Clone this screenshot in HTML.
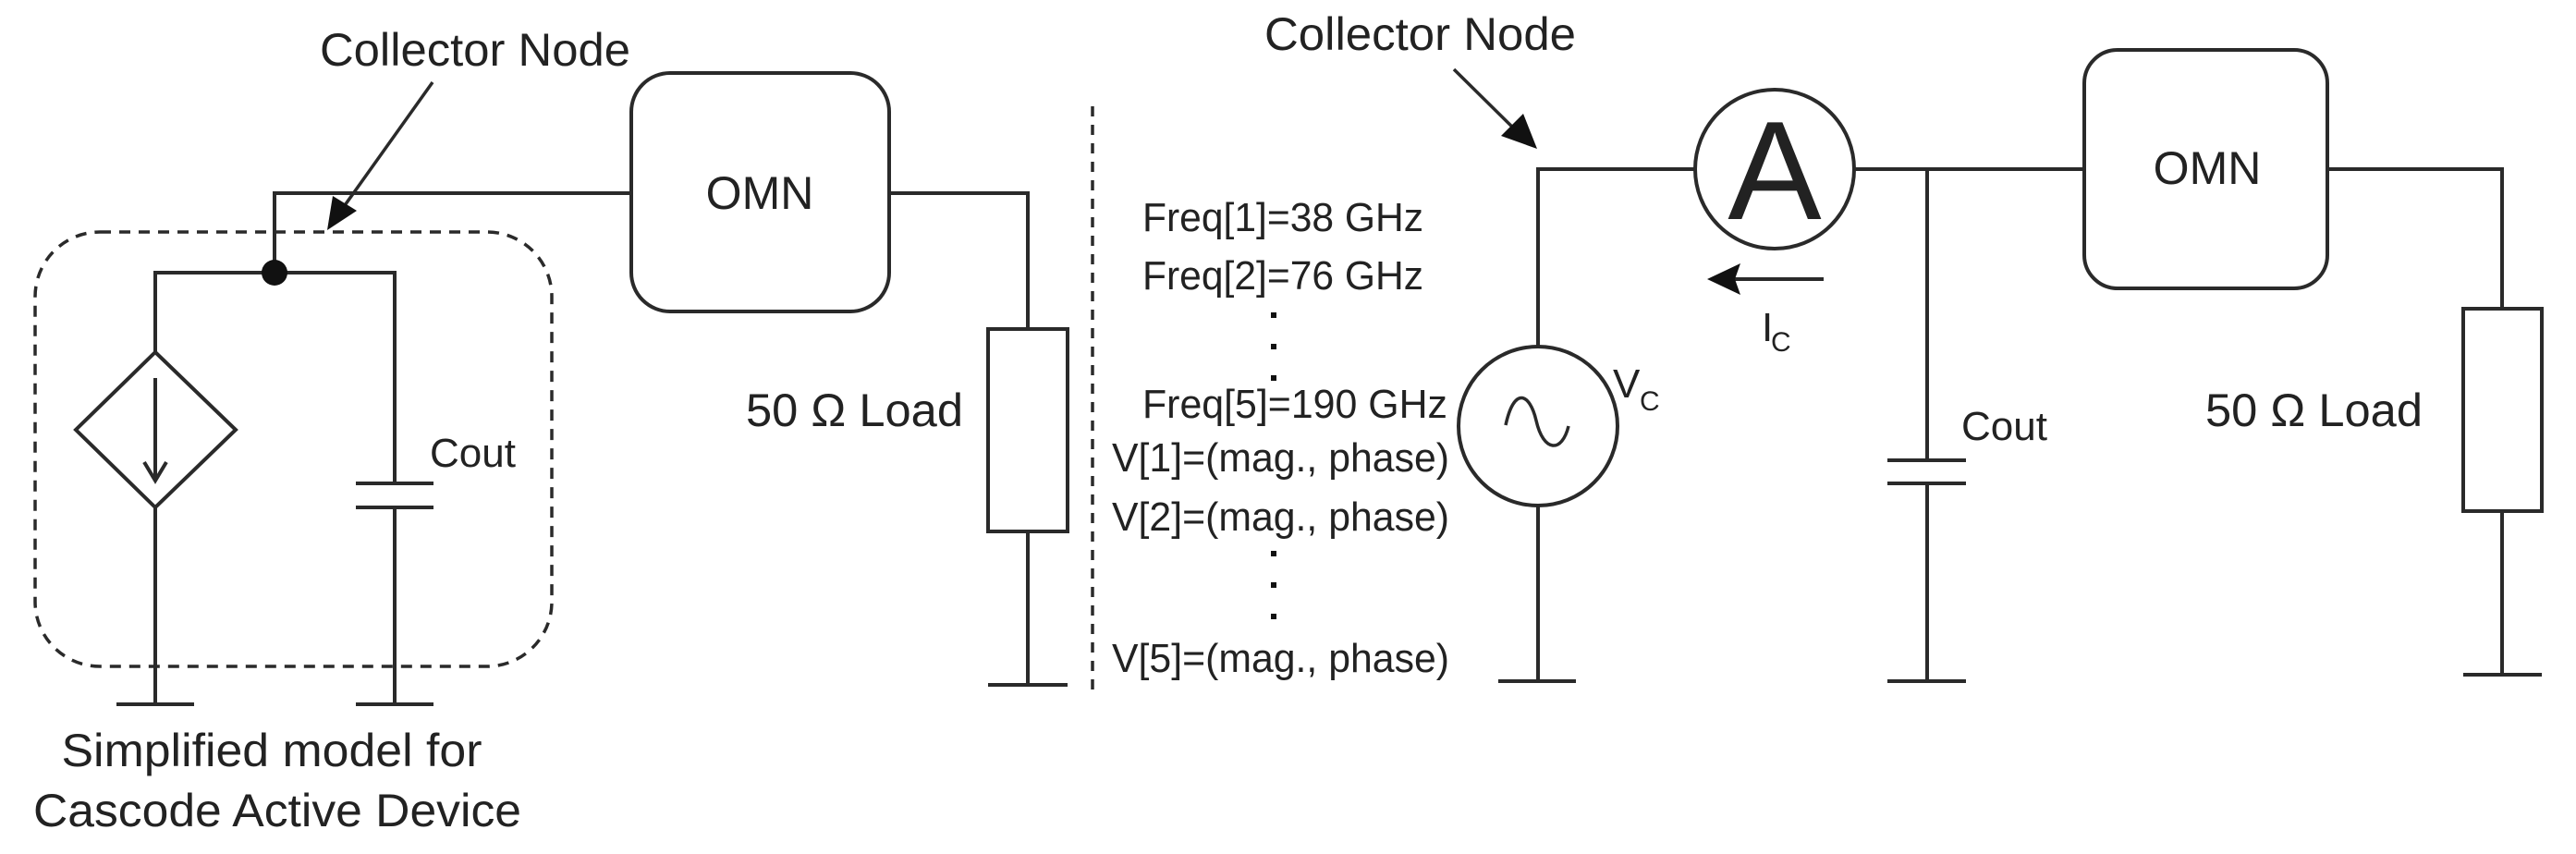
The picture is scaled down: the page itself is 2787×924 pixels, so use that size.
<!DOCTYPE html>
<html><head><meta charset="utf-8"><style>
html,body{margin:0;padding:0;background:#fff;}
svg{display:block;}
text{font-family:"Liberation Sans",Arial,sans-serif;fill:#222;}
</style></head><body>
<svg width="2787" height="924" viewBox="0 0 2787 924" xmlns="http://www.w3.org/2000/svg">
<defs>
<marker id="ah" markerWidth="10" markerHeight="10" refX="9" refY="5" orient="auto" markerUnits="userSpaceOnUse" viewBox="0 0 10 10"></marker>
</defs>
<g stroke="#2a2a2a" stroke-width="4" fill="none">
<!-- LEFT -->
<rect x="38" y="251" width="559" height="470" rx="70" stroke-dasharray="12 9" stroke-width="3.5"/>
<polyline points="297,295 297,209 683,209"/>
<rect x="683" y="79" width="279" height="258" rx="42"/>
<polyline points="962,209 1112,209 1112,356"/>
<rect x="1069" y="356" width="86" height="219"/>
<line x1="1112" y1="575" x2="1112" y2="741"/>
<line x1="1069" y1="741" x2="1155" y2="741"/>
<polyline points="168,381 168,295 427,295 427,523"/>
<polygon points="168,381 255,465 168,549 82,465"/>
<line x1="168" y1="409" x2="168" y2="520"/>
<polyline points="156,500 168,520 180,500"/>
<line x1="168" y1="549" x2="168" y2="762"/>
<line x1="126" y1="762" x2="210" y2="762"/>
<line x1="385" y1="523" x2="469" y2="523"/>
<line x1="385" y1="549" x2="469" y2="549"/>
<line x1="427" y1="549" x2="427" y2="762"/>
<line x1="385" y1="762" x2="469" y2="762"/>
<line x1="468" y1="89" x2="366" y2="232" stroke-width="3.5"/>
<!-- divider -->
<line x1="1182" y1="115" x2="1182" y2="748" stroke-dasharray="11 9" stroke-width="3.5"/>
<!-- RIGHT -->
<line x1="1573" y1="75" x2="1650" y2="151" stroke-width="3.5"/>
<polyline points="1664,375 1664,183 1835,183"/>
<circle cx="1920" cy="183" r="86"/>
<line x1="2006" y1="183" x2="2255" y2="183"/>
<line x1="2085" y1="183" x2="2085" y2="498"/>
<line x1="2042" y1="498" x2="2127" y2="498"/>
<line x1="2042" y1="523" x2="2127" y2="523"/>
<line x1="2085" y1="523" x2="2085" y2="737"/>
<line x1="2042" y1="737" x2="2127" y2="737"/>
<circle cx="1664" cy="461" r="86"/>
<path d="M1629,460 C1638,418 1655,425 1662,455 C1670,490 1690,490 1697,461" stroke-width="3.5"/>
<line x1="1664" y1="547" x2="1664" y2="737"/>
<line x1="1621" y1="737" x2="1705" y2="737"/>
<rect x="2255" y="54" width="263" height="258" rx="36"/>
<polyline points="2518,183 2707,183 2707,334"/>
<rect x="2665" y="334" width="85" height="219"/>
<line x1="2707" y1="553" x2="2707" y2="730"/>
<line x1="2665" y1="730" x2="2750" y2="730"/>
<line x1="1973" y1="302" x2="1870" y2="302"/>
</g>
<g fill="#111" stroke="none">
<circle cx="297" cy="295" r="14"/>
<polygon points="354,249 360,212 386,228"/>
<polygon points="1663,161 1624,147 1648,123"/>
<polygon points="1847,302 1883,285 1877,302 1883,319"/>
</g>
<g font-size="50">
<text x="346" y="71" textLength="336" lengthAdjust="spacingAndGlyphs">Collector Node</text>
<text x="1368" y="54" textLength="337" lengthAdjust="spacingAndGlyphs">Collector Node</text>
<text x="822" y="226" text-anchor="middle">OMN</text>
<text x="2388" y="199" text-anchor="middle">OMN</text>
<text x="807" y="461" textLength="235" lengthAdjust="spacingAndGlyphs">50 Ω Load</text>
<text x="2386" y="461" textLength="235" lengthAdjust="spacingAndGlyphs">50 Ω Load</text>
<text x="294" y="829" text-anchor="middle" textLength="455" lengthAdjust="spacingAndGlyphs">Simplified model for</text>
<text x="300" y="894" text-anchor="middle" textLength="528" lengthAdjust="spacingAndGlyphs">Cascode Active Device</text>
</g>
<g font-size="44">
<text x="465" y="505">Cout</text>
<text x="2122" y="476">Cout</text>
<text x="1236" y="250" textLength="304" lengthAdjust="spacingAndGlyphs">Freq[1]=38 GHz</text>
<text x="1236" y="313" textLength="304" lengthAdjust="spacingAndGlyphs">Freq[2]=76 GHz</text>
<text x="1236" y="452" textLength="330" lengthAdjust="spacingAndGlyphs">Freq[5]=190 GHz</text>
<text x="1203" y="510" textLength="365" lengthAdjust="spacingAndGlyphs">V[1]=(mag., phase)</text>
<text x="1203" y="574" textLength="365" lengthAdjust="spacingAndGlyphs">V[2]=(mag., phase)</text>
<text x="1203" y="727" textLength="365" lengthAdjust="spacingAndGlyphs">V[5]=(mag., phase)</text>
<text x="1906" y="369">I</text>
<text x="1916" y="380" font-size="30">C</text>
<text x="1745" y="430">V</text>
<text x="1774" y="444" font-size="30">C</text>
</g>
<text x="1920" y="237" font-size="152" text-anchor="middle" fill="#000">A</text>
<g fill="#111">
<rect x="1375" y="338" width="6" height="6"/><rect x="1375" y="372" width="6" height="6"/><rect x="1375" y="406" width="6" height="6"/>
<rect x="1375" y="596" width="6" height="6"/><rect x="1375" y="630" width="6" height="6"/><rect x="1375" y="664" width="6" height="6"/>
</g>
</svg>
</body></html>
